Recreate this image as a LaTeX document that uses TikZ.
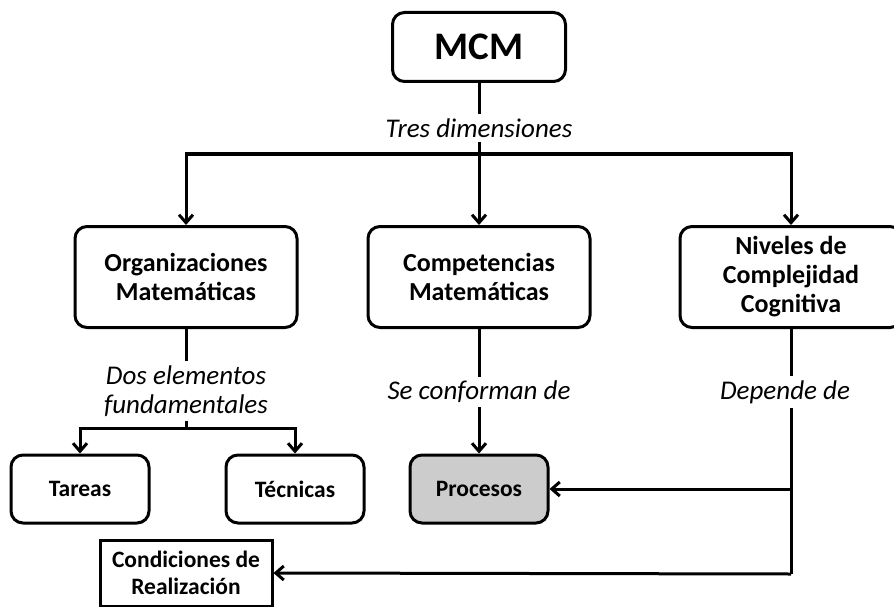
\documentclass[tikz,border=0pt]{standalone}
\usepackage{fontspec}
\setmainfont{Carlito}
\usetikzlibrary{shapes.geometric, arrows.meta, positioning}
\tikzstyle{box} = [rectangle, rounded corners=12pt, minimum width=222pt, minimum height=101pt, text centered, align=center, draw=black, line width=3pt, font=\bfseries\fontsize{26}{29}\selectfont]
\tikzstyle{smallbox} = [rectangle, rounded corners=12pt, minimum width=138pt, minimum height=68pt, text centered, draw=black, line width=3pt, font=\bfseries\fontsize{23.5}{27}\selectfont]
\tikzstyle{plainbox} = [rectangle, minimum width=172pt, minimum height=66pt, text centered, align=center, draw=black, line width=3pt, font=\bfseries\fontsize{23.5}{27}\selectfont]
\tikzstyle{lab} = [inner sep=4pt, align=center, font=\itshape\fontsize{27}{29}\selectfont]
\tikzstyle{line} = [line width=3pt]
\tikzstyle{arrow} = [line width=3pt,->,>={Straight Barb[length=8pt,width=14pt]}]

\begin{document}
\begin{tikzpicture}[x=1pt, y=-1pt]
					\useasboundingbox (0,0) rectangle (894,607);
					\node (mcm) [box, minimum width=173pt, minimum height=69pt, font=\bfseries\fontsize{39}{42}\selectfont] at (479,47) {MCM};
					\node (tres) [lab] at (479,128) {Tres dimensiones};
					\node (org) [box] at (186,277) {Organizaciones\\Matemáticas};
					\node (comp) [box] at (479,277) {Competencias\\Matemáticas};
					\node (niv) [box] at (791,277) {Niveles de\\Complejidad\\Cognitiva};
					\node (dos) [lab] at (186,391) {Dos elementos\\fundamentales};
					\node (conf) [lab] at (479,392) {Se conforman de};
					\node (dep) [lab] at (785,392) {Depende de};
					\node (tar) [smallbox] at (80,489) {Tareas};
					\node (tec) [smallbox] at (295,489) {Técnicas};
					\node (proc) [smallbox, fill=black!20] at (479,489) {Procesos};
					\node (cond) [plainbox] at (186,573) {Condiciones de\\Realización};
					\coordinate (j1) at (479,154);
					\coordinate (j2) at (186,428);
					\coordinate (j3) at (791,574);
					% tres dimensiones
					\draw [line] (mcm)--(tres);
					\draw [line] (tres)--(j1);
					\draw [arrow] (j1)-|(org.north);
					\draw [arrow] (j1)--(comp);
					\draw [arrow] (j1)-|(niv.north);
					% organizaciones
					\draw [line] (org)--(dos);
					\draw [line] (dos)--(j2);
					\draw [arrow] (j2)-|(tar.north);
					\draw [arrow] (j2)-|(tec.north);
					% competencias
					\draw [line] (comp)--(conf);
					\draw [arrow] (conf)--(proc);
					% niveles
					\draw [line] (niv.south)--(niv.south |- dep.north);
					\draw [line] (niv.south |- dep.south)--(j3);
					\draw [arrow] (niv.south |- proc.east)--(proc.east);
					\draw [arrow] (j3)--(cond.east);
				\end{tikzpicture}
\end{document}
